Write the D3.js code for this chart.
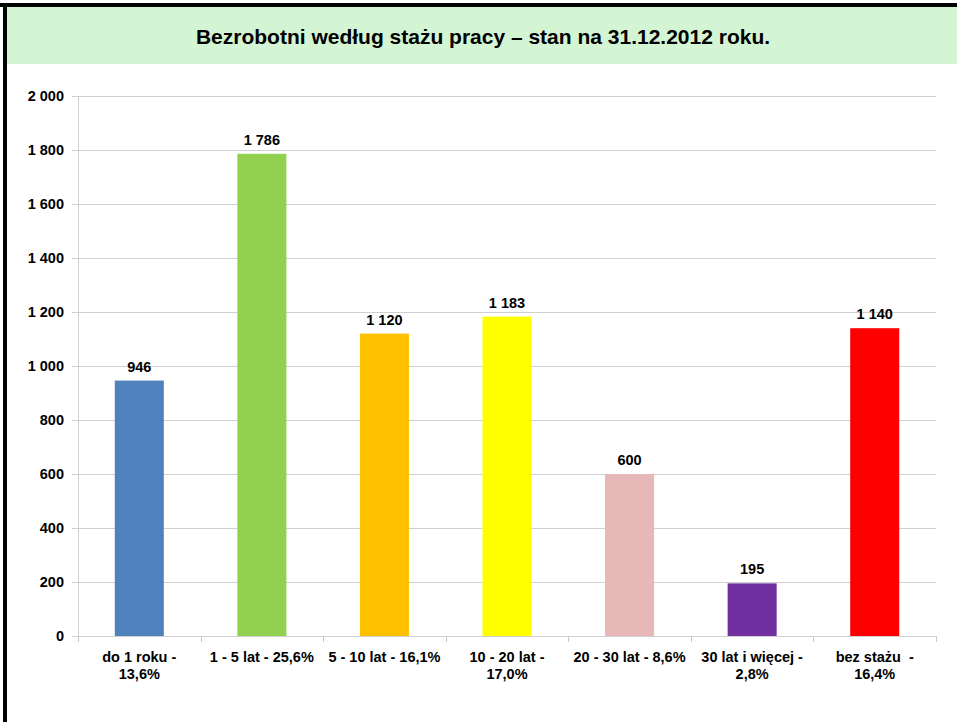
<!DOCTYPE html>
<html>
<head>
<meta charset="utf-8">
<script src="https://cdn.jsdelivr.net/npm/d3@7"></script>
<style>
  body { margin: 0; background: #fff; }
  svg { display: block; font-family: "Liberation Sans", Arial, sans-serif; }
</style>
</head>
<body>
<svg id="chart" width="957" height="722"></svg>
<script>
const categories = [
  ['do 1 roku -', '13,6%'],
  ['1 - 5 lat - 25,6%'],
  ['5 - 10 lat - 16,1%'],
  ['10 - 20 lat -', '17,0%'],
  ['20 - 30 lat - 8,6%'],
  ['30 lat i więcej -', '2,8%'],
  ['bez stażu  -', '16,4%']
];
const values = [946, 1786, 1120, 1183, 600, 195, 1140];
const colors = ['#4F81BD', '#92D050', '#FFC000', '#FFFF00', '#E6B9B8', '#7030A0', '#FF0000'];
const yTicks = [0, 200, 400, 600, 800, 1000, 1200, 1400, 1600, 1800, 2000];
const title = 'Bezrobotni według stażu pracy – stan na 31.12.2012 roku.';

const svg = d3.select('#chart');
const width = 957;
const margin = { top: 96, right: 21, bottom: 86, left: 78 };
const height = 722;
const fmt = (d) => d3.format(',')(d).replace(/,/g, ' ');

// frame + header
svg.append('rect').attr('x', 0).attr('y', 3).attr('width', width).attr('height', 4).attr('fill', '#000');
svg.append('rect').attr('x', 3).attr('y', 3).attr('width', 4).attr('height', height).attr('fill', '#000');
svg.append('rect').attr('x', 7).attr('y', 7).attr('width', width - 7).attr('height', 57).attr('fill', '#D3F5D3');
svg.append('text')
  .attr('x', 483).attr('y', 44)
  .attr('text-anchor', 'middle')
  .attr('font-size', 21).attr('font-weight', 'bold')
  .text(title);

const x = d3.scaleBand()
  .domain(d3.range(values.length))
  .range([margin.left, width - margin.right])
  .padding(0);

const y = d3.scaleLinear()
  .domain([0, 2000])
  .range([height - margin.bottom, margin.top]);

// gridlines
svg.append('g')
  .selectAll('line')
  .data(yTicks)
  .join('line')
  .attr('x1', margin.left - 6)
  .attr('x2', width - margin.right)
  .attr('y1', (d) => Math.round(y(d)) + 0.5)
  .attr('y2', (d) => Math.round(y(d)) + 0.5)
  .attr('stroke', '#D0D0D0');

// y axis line
svg.append('line')
  .attr('x1', margin.left + 0.5).attr('x2', margin.left + 0.5)
  .attr('y1', y(2000)).attr('y2', y(0) + 6)
  .attr('stroke', '#D0D0D0');

// y labels
svg.append('g')
  .selectAll('text')
  .data(yTicks)
  .join('text')
  .attr('x', margin.left - 14)
  .attr('y', (d) => y(d) + 5)
  .attr('text-anchor', 'end')
  .attr('font-size', 14.5).attr('font-weight', 'bold')
  .attr('fill', '#000')
  .text(fmt);

// x tick marks
svg.append('g')
  .selectAll('line')
  .data(d3.range(values.length + 1))
  .join('line')
  .attr('x1', (i) => Math.round(margin.left + i * x.step()) + 0.5)
  .attr('x2', (i) => Math.round(margin.left + i * x.step()) + 0.5)
  .attr('y1', y(0)).attr('y2', y(0) + 6)
  .attr('stroke', '#C8C8C8');

// bars
const bw = x.bandwidth() * 0.4;
svg.append('g')
  .selectAll('rect')
  .data(values)
  .join('rect')
  .attr('x', (d, i) => x(i) + (x.bandwidth() - bw) / 2)
  .attr('y', (d) => y(d))
  .attr('width', bw)
  .attr('height', (d) => y(0) - y(d))
  .attr('fill', (d, i) => colors[i]);

// value labels
svg.append('g')
  .selectAll('text')
  .data(values)
  .join('text')
  .attr('x', (d, i) => x(i) + x.bandwidth() / 2)
  .attr('y', (d) => y(d) - 9)
  .attr('text-anchor', 'middle')
  .attr('font-size', 14.5).attr('font-weight', 'bold')
  .text(fmt);

// category labels
const cat = svg.append('g')
  .selectAll('text')
  .data(categories)
  .join('text')
  .attr('x', (d, i) => x(i) + x.bandwidth() / 2)
  .attr('y', y(0) + 26)
  .attr('text-anchor', 'middle')
  .attr('font-size', 14.5).attr('font-weight', 'bold')
  .style('white-space', 'pre');

cat.selectAll('tspan')
  .data((d) => d)
  .join('tspan')
  .attr('x', function () { return this.parentNode.getAttribute('x'); })
  .attr('dy', (d, i) => (i === 0 ? 0 : 17))
  .text((d) => d);
</script>
</body>
</html>
